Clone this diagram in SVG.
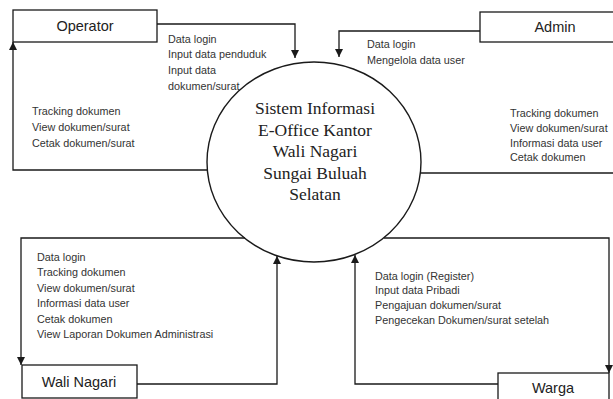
<svg xmlns="http://www.w3.org/2000/svg" width="613" height="399" viewBox="0 0 613 399">
<style>
.box{fill:#fff;stroke:#1a1a1a;stroke-width:1.3}
.conn{fill:none;stroke:#1a1a1a;stroke-width:1.3}
.lbl{font-family:"Liberation Sans",Arial,sans-serif;font-size:10.8px;fill:#333}
.name{font-family:"Liberation Sans",Arial,sans-serif;font-size:14.5px;fill:#222;text-anchor:middle}
.sys{font-family:"Liberation Serif","Times New Roman",serif;font-size:17.5px;fill:#222;text-anchor:middle}
</style>
<defs>
<marker id="arr" viewBox="0 0 10 10" refX="10" refY="5" markerWidth="8" markerHeight="8" markerUnits="userSpaceOnUse" orient="auto">
<path d="M0,0 L10,5 L0,10 z" fill="#1a1a1a"/>
</marker>
</defs>
<rect width="613" height="399" fill="#fff"/>
<g id="connectors">
<path class="conn" d="M157,24 H295 V58" marker-end="url(#arr)"/>
<path class="conn" d="M207,170 H13 V42" marker-end="url(#arr)"/>
<path class="conn" d="M480,31 H339 V57" marker-end="url(#arr)"/>
<path class="conn" d="M421,173 H613"/>
<path class="conn" d="M245,238 H21 V365" marker-end="url(#arr)"/>
<path class="conn" d="M137,384 H277 V256" marker-end="url(#arr)"/>
<path class="conn" d="M384,238 H609 V373" marker-end="url(#arr)"/>
<path class="conn" d="M498,384 H355 V255" marker-end="url(#arr)"/>
</g>
<g id="labels">
<text class="lbl" x="168" y="43">Data login</text>
<text class="lbl" x="168" y="58">Input data penduduk</text>
<text class="lbl" x="168" y="74">Input data</text>
<text class="lbl" x="168" y="90">dokumen/surat</text>
<text class="lbl" x="32" y="115">Tracking dokumen</text>
<text class="lbl" x="32" y="131">View dokumen/surat</text>
<text class="lbl" x="32" y="147">Cetak dokumen/surat</text>
<text class="lbl" x="367" y="48">Data login</text>
<text class="lbl" x="367" y="64">Mengelola data user</text>
<text class="lbl" x="510" y="117">Tracking dokumen</text>
<text class="lbl" x="510" y="132">View dokumen/surat</text>
<text class="lbl" x="510" y="147">Informasi data user</text>
<text class="lbl" x="510" y="161">Cetak dokumen</text>
<text class="lbl" x="37" y="261">Data login</text>
<text class="lbl" x="37" y="276">Tracking dokumen</text>
<text class="lbl" x="37" y="292">View dokumen/surat</text>
<text class="lbl" x="37" y="307">Informasi data user</text>
<text class="lbl" x="37" y="323">Cetak dokumen</text>
<text class="lbl" x="37" y="338">View Laporan Dokumen Administrasi</text>
<text class="lbl" x="375" y="280">Data login (Register)</text>
<text class="lbl" x="375" y="294">Input data Pribadi</text>
<text class="lbl" x="375" y="309">Pengajuan dokumen/surat</text>
<text class="lbl" x="375" y="324">Pengecekan Dokumen/surat setelah</text>
</g>
<g id="system">
<ellipse cx="314" cy="162" rx="107" ry="100" fill="none" stroke="#1a1a1a" stroke-width="1.4"/>
<text class="sys" x="315" y="114">Sistem Informasi</text>
<text class="sys" x="315" y="135.5">E-Office Kantor</text>
<text class="sys" x="315" y="157">Wali Nagari</text>
<text class="sys" x="315" y="178.5">Sungai Buluah</text>
<text class="sys" x="315" y="200">Selatan</text>
</g>
<g id="operator">
<rect class="box" x="13" y="10" width="144" height="32"/>
<text class="name" x="85" y="31">Operator</text>
</g>
<g id="admin">
<rect class="box" x="480" y="12" width="140" height="30"/>
<text class="name" x="555" y="32">Admin</text>
</g>
<g id="wali-nagari">
<rect class="box" x="22" y="365" width="115" height="33"/>
<text class="name" x="79" y="387">Wali Nagari</text>
</g>
<g id="warga">
<rect class="box" x="498" y="373" width="111" height="40"/>
<text class="name" x="553" y="393">Warga</text>
</g>
</svg>
